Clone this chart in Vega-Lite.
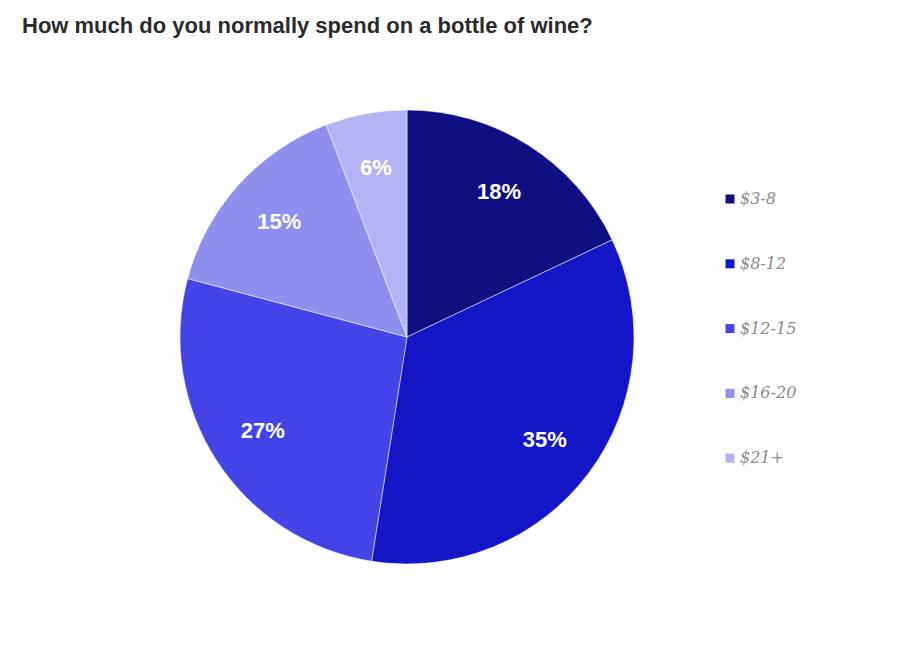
{
  "$schema": "https://vega.github.io/schema/vega-lite/v6.json",
  "width": 814,
  "height": 554,
  "autosize": {"type": "none"},
  "padding": {"top": 60, "left": 0, "right": 0, "bottom": 0},
  "title": {
    "text": "How much do you normally spend on a bottle of wine?",
    "anchor": "start",
    "frame": "group",
    "dx": 22,
    "offset": 22,
    "font": "Liberation Sans",
    "fontSize": 22,
    "fontWeight": "bold",
    "color": "#2b2b2b"
  },
  "data": {
    "values": [
      {"price": "$3-8", "order": 1, "share": 0.18},
      {"price": "$8-12", "order": 2, "share": 0.346},
      {"price": "$12-15", "order": 3, "share": 0.267},
      {"price": "$16-20", "order": 4, "share": 0.151},
      {"price": "$21+", "order": 5, "share": 0.058}
    ]
  },
  "encoding": {
    "theta": {"field": "share", "type": "quantitative", "stack": true},
    "order": {"field": "order", "type": "quantitative"},
    "color": {
      "field": "price",
      "type": "nominal",
      "sort": ["$3-8", "$8-12", "$12-15", "$16-20", "$21+"],
      "scale": {
        "domain": ["$3-8", "$8-12", "$12-15", "$16-20", "$21+"],
        "range": ["#0f0f82", "#1515c8", "#4343e8", "#8f8ff0", "#b3b3f5"]
      },
      "legend": {
        "title": null,
        "orient": "none",
        "legendX": 722,
        "legendY": 131,
        "symbolType": "square",
        "symbolSize": 81,
        "symbolStrokeWidth": 0,
        "labelFont": "DejaVu Serif",
        "labelFontStyle": "italic",
        "labelFontSize": 16,
        "labelColor": "#8c8c8c",
        "labelOffset": 2,
        "rowPadding": 48.8
      }
    }
  },
  "layer": [
    {
      "mark": {"type": "arc", "outerRadius": 227, "stroke": "#ffffff", "strokeWidth": 0.5}
    },
    {
      "mark": {
        "type": "text",
        "radius": 172,
        "font": "Liberation Sans",
        "fontSize": 22,
        "fontWeight": "bold",
        "fill": "#ffffff"
      },
      "encoding": {
        "text": {"field": "share", "type": "quantitative", "format": ".0%"},
        "color": {"value": "#ffffff"}
      }
    }
  ],
  "config": {"view": {"stroke": null}}
}
